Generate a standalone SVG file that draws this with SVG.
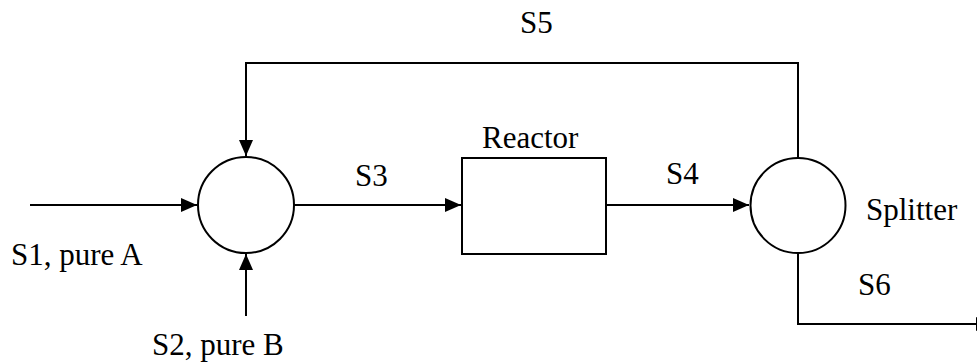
<svg xmlns="http://www.w3.org/2000/svg" width="977" height="364" viewBox="0 0 977 364">
<style>
.s{fill:none;stroke:#000;stroke-width:2}
.n{fill:#fff;stroke:#000;stroke-width:2}
text{font-family:'Liberation Serif','Times New Roman',serif;font-size:31px;fill:#000}
</style>
<defs>
<marker id="ah" markerUnits="userSpaceOnUse" markerWidth="16" markerHeight="14" refX="16" refY="7" orient="auto">
<path d="M0,0 L16,7 L0,14 Z" fill="#000"/>
</marker>
</defs>
<rect width="977" height="364" fill="#fff"/>
<g id="connectors">
<path class="s" d="M30,205 H197" marker-end="url(#ah)"/>
<path class="s" d="M246,316 V254" marker-end="url(#ah)"/>
<path class="s" d="M294,205 H461" marker-end="url(#ah)"/>
<path class="s" d="M606,205 H749" marker-end="url(#ah)"/>
<path class="s" d="M798,158 V63 H246 V156" marker-end="url(#ah)"/>
<path class="s" d="M798,253 V324 H992" marker-end="url(#ah)"/>
</g>
<g id="mixer"><circle class="n" cx="246" cy="205" r="48"/></g>
<g id="reactor"><rect class="n" x="462" y="158" width="144" height="96"/><text x="482" y="148">Reactor</text></g>
<g id="splitter"><circle class="n" cx="798" cy="205.5" r="47.5"/><text x="866" y="220">Splitter</text></g>
<g id="labels">
<text x="11" y="265">S1, pure A</text>
<text x="152" y="355">S2, pure B</text>
<text x="355" y="186">S3</text>
<text x="666" y="184">S4</text>
<text x="520" y="33">S5</text>
<text x="858" y="295">S6</text>
</g>
</svg>
